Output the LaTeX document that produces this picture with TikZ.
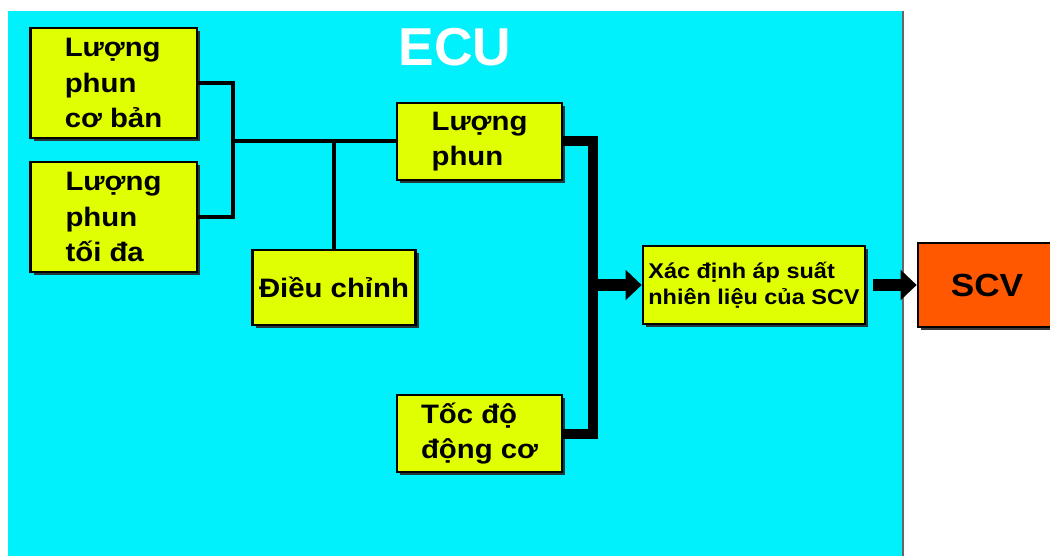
\documentclass[tikz,border=0pt]{standalone}
\usepackage{fontspec}
\setmainfont{Liberation Sans}
\newfontfamily\widesf{Liberation Sans}[FakeStretch=1.1]
\usetikzlibrary{shadows,arrows.meta}
\definecolor{ecucyan}{RGB}{0,240,252}
\definecolor{boxyellow}{RGB}{224,255,0}
\definecolor{scvorange}{RGB}{255,88,0}

\begin{document}
\begin{tikzpicture}
 [x=0.75pt,y=-0.75pt,
% Block styles
    blk/.style={rectangle,draw=black,line width=2pt,fill=boxyellow,inner sep=0pt,
        align=left,font=\widesf\bfseries\fontsize{20}{26.5}\selectfont,
        drop shadow={shadow xshift=2.5pt,shadow yshift=-2.5pt,fill=black!85,opacity=.9}},
    small/.style={font=\widesf\bfseries\fontsize{16}{19.5}\selectfont},
    outblk/.style={blk,fill=scvorange,align=center,
        font=\widesf\bfseries\fontsize{24}{28}\selectfont},
% Connector styles
    link/.style={line width=3pt},
    bus/.style={line width=7.5pt},
    tip/.style={line width=9.5pt,-{Triangle[width=22pt,length=12pt]}}
 ]
\clip (0,0) rectangle (1050,556);
\fill[white] (0,0) rectangle (1050,556);
%% ECU area
\fill[ecucyan] (8,11) rectangle (903,560);
\draw[black!60,line width=1pt] (903,11) -- (903,560);
\node (ecu) at (455,47) [white,font=\bfseries\fontsize{40}{44}\selectfont] {ECU};
%% Blocks
\node (qbase) at (113.5,83)  [blk,minimum width=125pt,minimum height=82.5pt] {Lượng\\phun\\cơ bản};
\node (qmax)  at (113.5,217) [blk,minimum width=125pt,minimum height=82.5pt] {Lượng\\phun\\tối đa};
\node (adj)   at (334,287.5) [blk,minimum width=122.5pt,minimum height=56.25pt] {Điều chỉnh};
\node (qinj)  at (479.5,141.5) [blk,minimum width=123.75pt,minimum height=57.75pt] {Lượng\\phun};
\node (rpm)   at (479.5,433.5) [blk,minimum width=123.75pt,minimum height=57.75pt] {Tốc độ\\động cơ};
\node (pset)  at (754,285) [blk,small,minimum width=166.5pt,minimum height=58.5pt] {Xác định áp suất\\nhiên liệu của SCV};
\node (scv)   at (987,285) [outblk,minimum width=103.5pt,minimum height=63pt] {SCV};
%% Connectors
\coordinate (j1) at (233,141.5);
\coordinate (j2) at (593,285);
\draw[link] (qbase.east) -| (j1) |- (qmax.east);
\draw[link] (j1) -- (qinj.west);
\draw[link] (adj.north) -- (adj.north |- j1);
\draw[bus] (qinj.east) -| (j2) |- (rpm.east);
\draw[tip] ([xshift=-3.75pt]j2) -- (pset.west);
\draw[tip] ([xshift=5pt]pset.east) -- (scv.west);
\end{tikzpicture}
\end{document}
